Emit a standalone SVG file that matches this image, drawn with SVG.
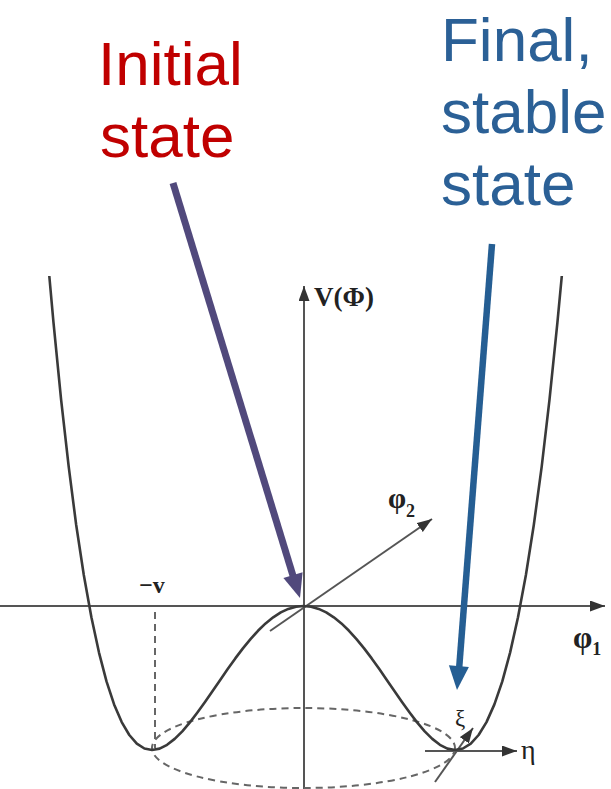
<svg xmlns="http://www.w3.org/2000/svg" width="611" height="789" viewBox="0 0 611 789">
<style>
.ax{stroke:#555;stroke-width:2;fill:none}
.cv{stroke:#3a3a3a;stroke-width:2.6;fill:none;stroke-linejoin:round}
.ds{stroke:#666;stroke-width:2;fill:none;stroke-dasharray:7 5}
.mt{font-family:"Liberation Serif","DejaVu Serif",serif;fill:#222}
.big{font-family:"Liberation Sans",Arial,sans-serif;font-size:62px}
</style>
<defs>
<marker id="ah" markerUnits="userSpaceOnUse" markerWidth="15" markerHeight="11" refX="15" refY="5.5" orient="auto">
<path d="M0,0 L15,5.5 L0,11 z" fill="#333"/>
</marker>
</defs>
<rect width="611" height="789" fill="#fff"/>
<g id="labels">
<text class="big" x="98" y="85" fill="#C00000">Initial</text>
<text class="big" x="100" y="157" fill="#C00000">state</text>
<text class="big" x="441" y="61" fill="#2B6096">Final,</text>
<text class="big" x="441" y="133" fill="#2B6096">stable</text>
<text class="big" x="441" y="205" fill="#2B6096">state</text>
</g>
<g id="axes">
<line class="ax" x1="304" y1="789" x2="304" y2="286" marker-end="url(#ah)"/>
<line class="ax" x1="0" y1="606" x2="605" y2="606" marker-end="url(#ah)"/>
<line class="ax" x1="270" y1="631" x2="432" y2="519" marker-end="url(#ah)"/>
<line class="ax" x1="425" y1="751" x2="517" y2="751" marker-end="url(#ah)"/>
<line class="ax" x1="435" y1="782" x2="473" y2="728" marker-end="url(#ah)"/>
<text class="mt" x="314" y="306" font-size="27" font-weight="bold">V(Φ)</text>
<text class="mt" x="152" y="593" font-size="24" font-weight="bold" text-anchor="middle">−v</text>
<text class="mt" x="573" y="648" font-size="31" font-weight="bold">φ<tspan font-size="18" dy="7">1</tspan></text>
<text class="mt" x="388" y="508" font-size="29" font-weight="bold">φ<tspan font-size="18" dy="9">2</tspan></text>
<text class="mt" x="455" y="726" font-size="23">ξ</text>
<text class="mt" x="521" y="759" font-size="28">η</text>
</g>
<g id="dashed">
<line class="ds" x1="155" y1="612" x2="155" y2="748"/>
<ellipse class="ds" cx="303.5" cy="748" rx="151.5" ry="40"/>
</g>
<g id="potential">
<polyline class="cv" points="49.3,276 53.5,322.7 61.1,399.6 68.7,466.7 76.2,525 83.8,575 91.4,617.3 99,652.6 106.5,681.4 114.1,704.4 121.7,722.1 129.3,735 136.8,743.6 144.4,748.5 152,750 159.6,748.6 167.1,744.8 174.7,738.9 182.3,731.3 189.9,722.4 197.4,712.5 205,702 212.6,691 220.2,680 227.7,669 235.3,658.4 242.9,648.4 250.5,639.1 258,630.8 265.6,623.4 273.2,617.3 280.8,612.4 288.3,608.9 296,606.7 303.5,606 311.1,606.7 318.7,608.9 326.2,612.4 333.8,617.3 341.4,623.4 349,630.8 356.5,639.1 364.1,648.4 371.7,658.4 379.3,669 386.8,680 394.4,691 402,702 409.6,712.5 417.1,722.4 424.7,731.3 432.3,738.9 439.9,744.8 447.4,748.6 455,750 462.9,748.5 470.8,743.6 478.6,735 486.5,722.1 494.4,704.4 502.3,681.4 510.1,652.6 518,617.3 525.9,575 533.8,525 541.7,466.7 549.5,399.6 557.4,322.7 561.8,276"/>
</g>
<g id="connectors">
<line x1="173" y1="183" x2="294" y2="579" stroke="#51497C" stroke-width="7"/>
<polygon points="300,598 302.6,572.2 283.4,578" fill="#51497C"/>
<line x1="492" y1="244" x2="459" y2="670" stroke="#255E93" stroke-width="6.5"/>
<polygon points="457,690 468.9,666.9 448.9,665.3" fill="#255E93"/>
</g>
</svg>
